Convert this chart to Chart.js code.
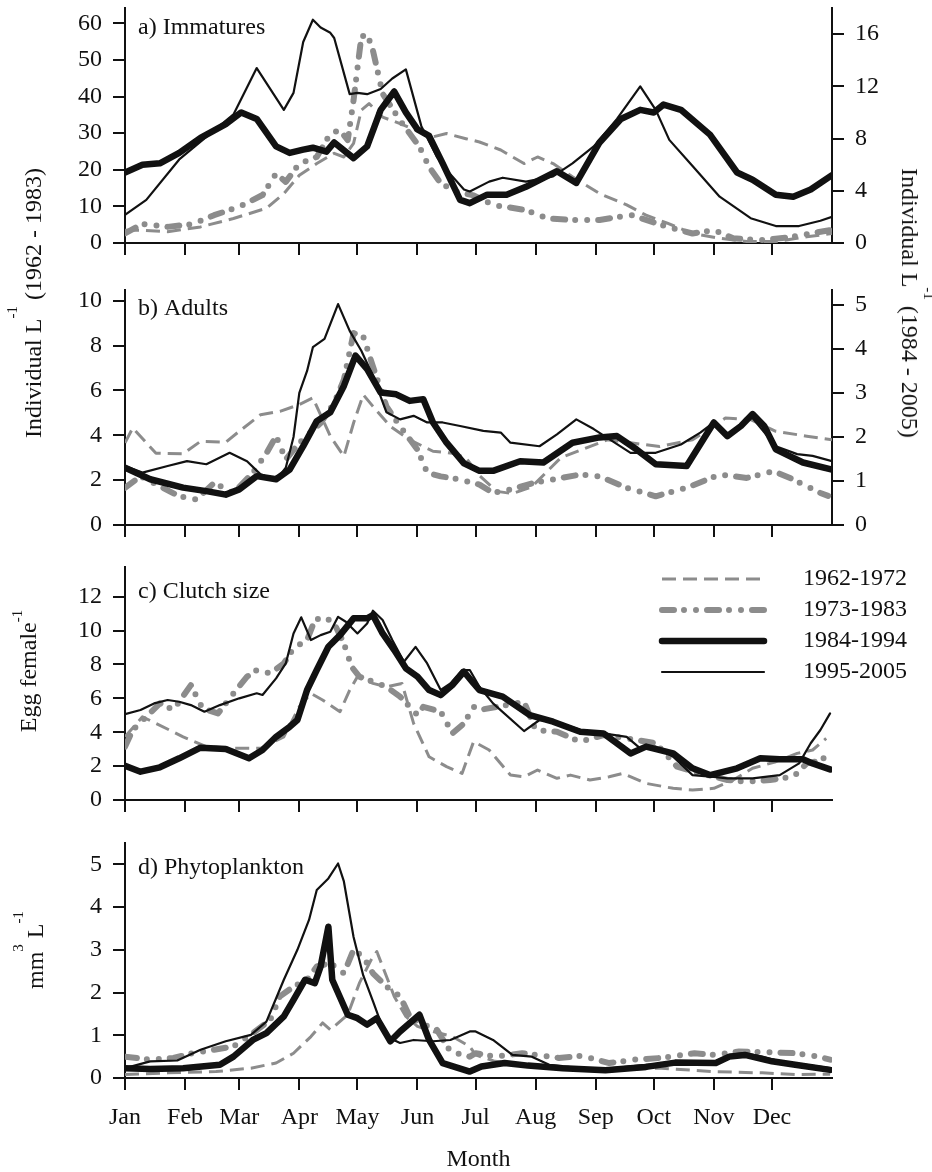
<!DOCTYPE html>
<html>
<head>
<meta charset="utf-8">
<title>Seasonal cycles 1962-2005</title>
<script src="https://cdn.jsdelivr.net/npm/chart.js@4.4.1/dist/chart.umd.min.js"></script>
<style>
  html, body { margin: 0; padding: 0; background: #fff; }
  #page { position: relative; width: 932px; height: 1172px; overflow: hidden;
          font-family: 'Liberation Serif', 'Times New Roman', serif; color: #111; }
  #page canvas { position: absolute; left: 0; }
  .ytitle { position: absolute; white-space: nowrap; font-size: 24px; line-height: 1; }
  .ytitle sup { font-size: 15px; position: relative; vertical-align: baseline; }
</style>
</head>
<body>
<div id="page">
  <canvas id="chartImm" width="932" height="280" style="top:0px"></canvas>
  <canvas id="chartAdu" width="932" height="280" style="top:280px"></canvas>
  <canvas id="chartClu" width="932" height="280" style="top:560px"></canvas>
  <canvas id="chartPhy" width="932" height="332" style="top:840px"></canvas>

  <div class="ytitle" style="left:33px;top:303px;transform:translate(-50%,-50%) rotate(-90deg)">Individual L<sup style="top:-24px">-1</sup> (1962 - 1983)</div>
  <div class="ytitle" style="left:910px;top:303px;transform:translate(-50%,-50%) rotate(90deg)">Individual L<sup style="top:-22px">-1</sup> (1984 - 2005)</div>
  <div class="ytitle" style="left:28px;top:671px;transform:translate(-50%,-50%) rotate(-90deg)">Egg female<sup style="top:-14px">-1</sup></div>
  <div class="ytitle" style="left:35px;top:950px;transform:translate(-50%,-50%) rotate(-90deg)">mm<sup style="top:-20px">3</sup> L<sup style="top:-20px">-1</sup></div>
</div>

<script>
// --- ticks / categories ---
const monthStarts = [0, 31, 59, 90, 120, 151, 181, 212, 243, 273, 304, 334];
const monthNames = ['Jan', 'Feb', 'Mar', 'Apr', 'May', 'Jun', 'Jul', 'Aug', 'Sep', 'Oct', 'Nov', 'Dec'];
const immTicksLeft = [0, 10, 20, 30, 40, 50, 60];
const immTicksRight = [0, 4, 8, 12, 16];
const aduTicksLeft = [0, 2, 4, 6, 8, 10];
const aduTicksRight = [0, 1, 2, 3, 4, 5];
const cluTicks = [0, 2, 4, 6, 8, 10, 12];
const phyTicks = [0, 1, 2, 3, 4, 5];

// --- series: [day of year, value] ---
// a) Immatures (1962-1983 on left axis, 1984-2005 on right axis)
const imm6272 = [[0,3.5],[8,3.5],[22,3.1],[39,4.4],[56,6.7],[73,9.5],[82,13.5],[90,18.5],[99,21.7],[108,24.5],[113,23.5],[118,27.2],[122,36.3],[126,38.1],[133,34.4],[142,32.6],[152,30.4],[159,29.0],[166,29.9],[176,28.5],[183,27.6],[194,25.4],[206,21.7],[213,23.5],[221,21.7],[231,18.1],[245,13.5],[259,10.4],[269,7.6],[280,5.4],[293,2.6],[307,1.3],[321,0.4],[336,0.4],[352,1.7],[365,2.6]];
const imm7383 = [[0,2.6],[9,5.2],[22,4.4],[35,5.2],[46,7.6],[59,9.9],[71,13.1],[78,19.0],[83,16.7],[90,21.7],[99,23.5],[106,29.9],[111,30.8],[115,28.1],[118,39.0],[122,56.3],[125,57.2],[128,52.6],[133,40.8],[142,33.5],[152,26.3],[157,20.8],[163,16.3],[171,14.0],[180,13.0],[190,10.4],[207,9.0],[218,6.7],[231,6.3],[245,6.3],[256,7.2],[262,7.6],[269,6.3],[280,4.4],[293,2.6],[304,3.5],[314,1.3],[328,0.8],[342,1.5],[354,2.6],[364,3.5]];
const imm8494 = [[0,5.4],[9,6.0],[18,6.1],[28,6.9],[39,8.05],[52,9.1],[60,10.0],[68,9.5],[78,7.4],[85,6.9],[92,7.15],[97,7.3],[104,7.0],[108,7.7],[118,6.5],[125,7.4],[132,10.2],[139,11.6],[145,10.0],[151,8.7],[157,8.2],[164,6.1],[173,3.3],[178,3.05],[187,3.7],[197,3.7],[207,4.3],[223,5.5],[233,4.6],[245,7.7],[256,9.5],[266,10.2],[273,10.0],[278,10.6],[287,10.2],[302,8.3],[316,5.4],[324,4.85],[336,3.7],[345,3.55],[354,4.1],[365,5.2]];
const imm9505 = [[0,2.15],[11,3.3],[28,6.4],[56,9.85],[68,13.4],[82,10.2],[87,11.5],[92,15.4],[97,17.1],[101,16.5],[106,16.1],[108,15.7],[116,11.4],[120,11.5],[125,11.4],[132,11.8],[138,12.6],[145,13.3],[153,8.95],[161,6.6],[166,5.6],[175,4.1],[178,3.95],[188,4.7],[195,5.0],[207,4.7],[221,5.1],[231,6.1],[242,7.4],[254,9.5],[266,12.0],[274,10.2],[281,7.9],[293,5.9],[307,3.55],[323,1.9],[336,1.3],[348,1.3],[359,1.7],[365,2.0]];

// b) Adults
const adu6272 = [[0,3.66],[4,4.33],[16,3.2],[30,3.18],[39,3.73],[52,3.69],[59,4.18],[70,4.92],[80,5.07],[90,5.37],[97,5.67],[106,3.96],[113,3.06],[118,4.55],[123,5.81],[128,5.29],[137,4.4],[147,3.8],[159,3.29],[169,3.2],[176,3.0],[183,2.2],[192,1.5],[200,1.4],[210,1.7],[225,3.0],[249,3.8],[276,3.5],[293,3.8],[310,4.77],[323,4.7],[336,4.18],[352,3.96],[365,3.8]];
const adu7383 = [[0,1.66],[8,2.17],[18,1.73],[28,1.28],[37,1.14],[46,1.88],[56,1.43],[66,2.33],[73,3.2],[78,3.96],[83,2.92],[90,3.66],[101,4.55],[108,5.44],[113,6.48],[118,8.56],[123,8.41],[128,7.07],[135,5.29],[142,4.4],[151,3.36],[156,2.33],[163,2.17],[173,2.03],[183,1.8],[190,1.43],[199,1.58],[211,1.88],[221,2.03],[235,2.25],[245,2.17],[259,1.66],[274,1.28],[290,1.66],[307,2.25],[321,2.1],[335,2.4],[345,2.03],[359,1.43],[363,1.3]];
const adu8494 = [[0,1.3],[13,1.04],[30,0.85],[42,0.77],[52,0.69],[59,0.81],[68,1.11],[78,1.04],[85,1.26],[92,1.79],[99,2.36],[106,2.56],[113,3.16],[119,3.85],[125,3.54],[132,3.01],[140,2.97],[147,2.82],[154,2.86],[159,2.33],[166,1.87],[175,1.4],[183,1.23],[190,1.23],[204,1.45],[216,1.42],[231,1.87],[245,1.99],[254,2.02],[264,1.72],[274,1.38],[290,1.34],[304,2.33],[311,2.02],[318,2.25],[324,2.52],[330,2.25],[336,1.72],[350,1.42],[365,1.26]];
const adu9505 = [[0,1.34],[9,1.19],[22,1.34],[32,1.45],[42,1.38],[54,1.64],[63,1.45],[70,1.15],[78,1.02],[83,1.3],[87,2.0],[90,3.0],[94,3.5],[97,4.04],[103,4.23],[110,5.02],[116,4.41],[122,3.96],[128,3.39],[135,2.56],[142,2.4],[149,2.48],[156,2.33],[164,2.33],[173,2.25],[185,2.14],[194,2.1],[199,1.87],[214,1.79],[223,2.06],[233,2.4],[242,2.18],[250,1.95],[261,1.64],[274,1.64],[287,1.83],[297,2.1],[304,2.33],[311,2.02],[323,2.48],[336,1.79],[347,1.61],[355,1.57],[365,1.45]];

// c) Clutch size
const clu6272 = [[0,3.73],[9,4.91],[16,4.52],[30,3.73],[42,3.15],[56,3.05],[70,3.05],[82,3.73],[90,5.5],[96,6.29],[102,5.9],[111,5.21],[116,6.49],[120,7.28],[128,6.88],[135,6.68],[143,6.88],[149,4.52],[157,2.55],[166,1.97],[174,1.57],[180,3.45],[188,2.95],[199,1.47],[206,1.37],[213,1.77],[223,1.28],[230,1.47],[240,1.18],[250,1.37],[257,1.57],[269,0.98],[283,0.69],[293,0.59],[304,0.69],[314,1.18],[324,1.87],[336,2.26],[347,2.75],[355,2.95],[362,3.64]];
const clu7383 = [[0,3.15],[4,4.13],[11,4.91],[18,5.7],[25,5.31],[34,6.78],[40,5.41],[48,5.11],[56,6.29],[63,7.28],[68,7.67],[75,7.47],[82,8.06],[87,8.95],[94,9.44],[98,10.62],[103,10.81],[108,10.42],[113,9.24],[117,7.86],[121,7.28],[128,6.98],[135,6.68],[142,6.1],[151,5.01],[154,5.5],[163,5.21],[169,3.93],[175,4.52],[180,5.5],[183,5.31],[192,5.5],[206,5.8],[212,4.13],[223,4.03],[235,3.44],[247,3.83],[259,3.64],[274,3.35],[285,1.97],[297,1.57],[311,1.18],[321,1.08],[333,1.18],[345,1.37],[352,2.16],[360,2.36],[364,3.05]];
const clu8494 = [[0,2.02],[8,1.67],[18,1.93],[28,2.46],[39,3.09],[52,3.01],[64,2.46],[71,2.95],[78,3.73],[85,4.32],[89,4.72],[94,6.49],[99,7.67],[105,9.04],[111,9.73],[118,10.72],[125,10.72],[128,10.91],[133,9.83],[139,8.85],[145,7.77],[151,7.28],[157,6.49],[163,6.19],[169,6.78],[175,7.57],[180,6.88],[183,6.49],[195,6.1],[209,5.01],[221,4.62],[235,4.03],[247,3.93],[261,2.75],[269,3.15],[283,2.75],[293,1.87],[302,1.47],[316,1.87],[328,2.46],[338,2.4],[350,2.4],[355,2.16],[364,1.81]];
const clu9505 = [[0,5.06],[8,5.31],[15,5.7],[22,5.9],[28,5.8],[34,5.6],[41,5.21],[49,5.6],[59,6.0],[68,6.3],[71,6.2],[78,7.18],[83,8.06],[87,9.83],[91,10.78],[96,9.44],[101,9.73],[106,9.93],[110,10.81],[114,10.52],[120,9.83],[125,10.42],[128,11.17],[133,10.62],[138,9.44],[144,8.16],[150,9.04],[156,8.06],[163,6.49],[168,6.88],[174,7.67],[178,7.67],[183,6.68],[190,5.7],[206,4.07],[214,4.72],[225,4.52],[238,4.03],[247,3.93],[259,3.73],[266,3.05],[274,3.15],[283,2.55],[293,1.47],[304,1.37],[311,1.28],[324,1.28],[338,1.47],[348,2.16],[354,3.35],[359,4.13],[364,5.11]];

// d) Phytoplankton
const phy6272 = [[0,0.08],[22,0.12],[47,0.15],[65,0.23],[78,0.35],[87,0.58],[96,0.97],[102,1.29],[106,1.13],[115,1.48],[121,2.22],[127,2.76],[130,2.96],[133,2.61],[139,1.91],[145,1.44],[151,1.21],[159,1.09],[169,0.97],[178,0.74],[181,0.54],[191,0.39],[208,0.31],[243,0.19],[277,0.23],[303,0.15],[329,0.12],[346,0.08],[364,0.09]];
const phy7383 = [[0,0.5],[13,0.43],[25,0.47],[35,0.58],[46,0.66],[56,0.74],[66,1.05],[75,1.36],[80,1.91],[87,2.14],[94,2.3],[99,2.61],[106,2.69],[113,2.45],[118,3.0],[123,2.84],[128,2.45],[135,2.14],[142,1.91],[147,1.44],[152,1.29],[161,1.13],[168,0.62],[178,0.5],[181,0.58],[191,0.5],[205,0.58],[224,0.47],[236,0.52],[250,0.35],[263,0.43],[277,0.47],[294,0.58],[305,0.54],[317,0.62],[334,0.6],[346,0.58],[358,0.5],[364,0.43]];
const phy8494 = [[0,0.23],[13,0.21],[30,0.23],[49,0.31],[56,0.5],[66,0.89],[73,1.05],[82,1.44],[87,1.83],[93,2.3],[98,2.22],[101,2.61],[105,3.54],[107,2.3],[115,1.48],[120,1.4],[125,1.25],[130,1.4],[137,0.86],[142,1.09],[152,1.48],[157,0.89],[164,0.35],[178,0.15],[184,0.27],[196,0.35],[208,0.29],[226,0.23],[248,0.18],[269,0.26],[284,0.36],[305,0.35],[312,0.5],[320,0.54],[334,0.39],[346,0.31],[364,0.19]];
const phy9505 = [[0,0.23],[13,0.39],[27,0.41],[39,0.66],[52,0.86],[65,1.01],[73,1.32],[82,2.3],[89,3.0],[95,3.7],[99,4.4],[105,4.67],[110,5.02],[113,4.6],[118,3.3],[123,2.4],[128,1.8],[132,1.3],[135,0.97],[142,0.82],[149,0.89],[159,0.86],[168,0.89],[178,1.09],[181,1.09],[190,0.89],[200,0.54],[210,0.5],[219,0.31],[243,0.19],[269,0.31],[294,0.36],[305,0.39],[312,0.54],[320,0.58],[329,0.5],[338,0.39],[364,0.23]];

// --- styles ---
const GREY = '#8c8c8c';
const INK = '#111111';
const FONT = "'Liberation Serif', 'Times New Roman', serif";

Chart.defaults.font.family = FONT;
Chart.defaults.font.size = 24;
Chart.defaults.color = INK;
Chart.defaults.animation = false;

const lineStyles = {
    '1962-1972': { borderColor: GREY, borderWidth: 3, borderDash: [14, 7], borderCapStyle: 'butt', order: 3 },
    '1973-1983': { borderColor: GREY, borderWidth: 6, borderDash: [12, 10, 0, 12, 0, 11], borderCapStyle: 'round', order: 2 },
    '1984-1994': { borderColor: INK, borderWidth: 6.5, borderCapStyle: 'round', order: 1 },
    '1995-2005': { borderColor: INK, borderWidth: 2.2, borderCapStyle: 'round', order: 0 }
};

function toSeries(points, label, axisId) {
    return Object.assign({
        label: label,
        data: points.map(p => ({ x: p[0], y: p[1] })),
        yAxisID: axisId,
        pointRadius: 0,
        tension: 0,
        fill: false,
        borderJoinStyle: 'round'
    }, lineStyles[label]);
}

function monthAxis(height, showLabels) {
    return {
        type: 'linear', position: 'bottom', min: 0, max: 365,
        afterBuildTicks: axis => { axis.ticks = monthStarts.map(v => ({ value: v })); },
        afterFit: axis => { axis.height = height; axis.paddingLeft = 0; axis.paddingRight = 0; },
        ticks: { display: showLabels, autoSkip: false, maxRotation: 0, padding: 13,
                 callback: v => monthNames[monthStarts.indexOf(v)] },
        grid: { drawOnChartArea: false, tickLength: 12, lineWidth: 2, tickWidth: 2, tickColor: INK },
        border: { display: true, color: INK, width: 2 },
        title: { display: showLabels, text: 'Month', font: { size: 24, lineHeight: 1 }, padding: 0 }
    };
}

function valueAxis(position, max, tickValues, width) {
    return {
        type: 'linear', position: position, min: 0, max: max,
        afterBuildTicks: axis => { axis.ticks = tickValues.map(v => ({ value: v })); },
        afterFit: axis => { axis.width = width; axis.paddingTop = 0; axis.paddingBottom = 0; },
        ticks: { padding: 11 },
        grid: { drawOnChartArea: false, tickLength: 12, lineWidth: 2, tickWidth: 2, tickColor: INK },
        border: { display: true, color: INK, width: 2 }
    };
}

// panel caption, e.g. "a) Immatures"
const panelLabel = {
    id: 'panelLabel',
    afterDraw(chart, args, opts) {
        const ctx = chart.ctx;
        ctx.save();
        ctx.font = '24px ' + FONT;
        ctx.fillStyle = INK;
        ctx.textBaseline = 'alphabetic';
        ctx.fillText(opts.text, chart.chartArea.left + 13, chart.chartArea.top + opts.dy);
        ctx.restore();
    }
};

// line-sample legend drawn from the datasets' own styles
const periodLegend = {
    id: 'periodLegend',
    afterDraw(chart, args, opts) {
        const ctx = chart.ctx;
        ctx.save();
        chart.data.datasets.forEach((ds, i) => {
            const y = opts.top + i * opts.rowGap;
            ctx.beginPath();
            ctx.strokeStyle = ds.borderColor;
            ctx.lineWidth = ds.borderWidth;
            ctx.lineCap = ds.borderCapStyle || 'butt';
            ctx.setLineDash(ds.borderDash || []);
            ctx.moveTo(opts.left, y);
            ctx.lineTo(opts.left + opts.length, y);
            ctx.stroke();
            ctx.setLineDash([]);
            ctx.fillStyle = INK;
            ctx.font = '24px ' + FONT;
            ctx.textBaseline = 'middle';
            ctx.fillText(ds.label, opts.textLeft, y);
        });
        ctx.restore();
    }
};

function baseOptions(padTop, padRight, caption, captionDy, scales) {
    return {
        responsive: false,
        devicePixelRatio: 1,
        layout: { padding: { top: padTop, right: padRight, bottom: 0, left: 0 } },
        scales: scales,
        plugins: {
            legend: { display: false },
            tooltip: { enabled: false },
            panelLabel: { text: caption, dy: captionDy }
        }
    };
}

new Chart(document.getElementById('chartImm'), {
    type: 'line',
    data: { datasets: [
        toSeries(imm6272, '1962-1972', 'y'),
        toSeries(imm7383, '1973-1983', 'y'),
        toSeries(imm8494, '1984-1994', 'y2'),
        toSeries(imm9505, '1995-2005', 'y2')
    ] },
    options: baseOptions(8, 0, 'a) Immatures', 26, {
        x: monthAxis(37, false),
        y: valueAxis('left', 64.2, immTicksLeft, 125),
        y2: valueAxis('right', 18.0, immTicksRight, 100)
    }),
    plugins: [panelLabel]
});

new Chart(document.getElementById('chartAdu'), {
    type: 'line',
    data: { datasets: [
        toSeries(adu6272, '1962-1972', 'y'),
        toSeries(adu7383, '1973-1983', 'y'),
        toSeries(adu8494, '1984-1994', 'y2'),
        toSeries(adu9505, '1995-2005', 'y2')
    ] },
    options: baseOptions(10, 0, 'b) Adults', 25, {
        x: monthAxis(35, false),
        y: valueAxis('left', 10.48, aduTicksLeft, 125),
        y2: valueAxis('right', 5.34, aduTicksRight, 100)
    }),
    plugins: [panelLabel]
});

const cluOptions = baseOptions(7, 100, 'c) Clutch size', 31, {
    x: monthAxis(40, false),
    y: valueAxis('left', 13.75, cluTicks, 125)
});
cluOptions.plugins.periodLegend = { left: 662, top: 19, length: 102, rowGap: 31, textLeft: 803 };

new Chart(document.getElementById('chartClu'), {
    type: 'line',
    data: { datasets: [
        toSeries(clu6272, '1962-1972', 'y'),
        toSeries(clu7383, '1973-1983', 'y'),
        toSeries(clu8494, '1984-1994', 'y'),
        toSeries(clu9505, '1995-2005', 'y')
    ] },
    options: cluOptions,
    plugins: [panelLabel, periodLegend]
});

new Chart(document.getElementById('chartPhy'), {
    type: 'line',
    data: { datasets: [
        toSeries(phy6272, '1962-1972', 'y'),
        toSeries(phy7383, '1973-1983', 'y'),
        toSeries(phy8494, '1984-1994', 'y'),
        toSeries(phy9505, '1995-2005', 'y')
    ] },
    options: baseOptions(3, 100, 'd) Phytoplankton', 31, {
        x: monthAxis(94, true),
        y: valueAxis('left', 5.5, phyTicks, 125)
    }),
    plugins: [panelLabel]
});
</script>
</body>
</html>
